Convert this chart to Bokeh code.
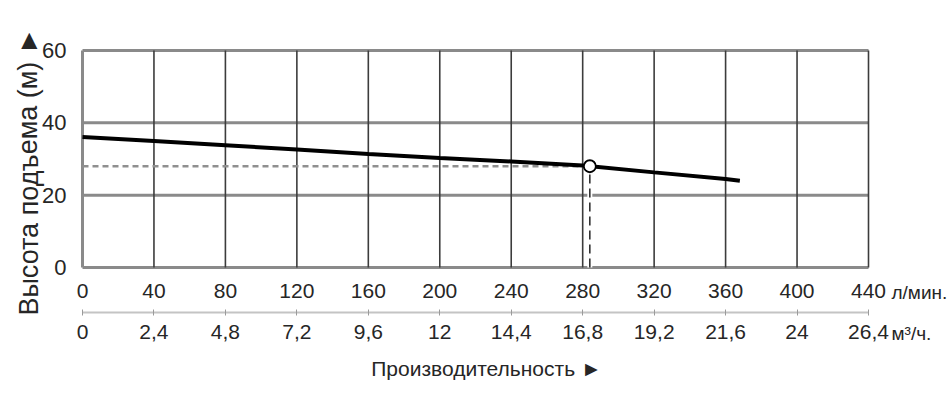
from bokeh.plotting import figure
from bokeh.models import LinearAxis, FixedTicker, Label
from bokeh.embed import file_html
from bokeh.resources import INLINE

# ---- data ----
flow_lpm = [0, 40, 80, 120, 160, 200, 240, 280, 320, 360, 368]
head_m = [36.1, 35.0, 33.8, 32.6, 31.4, 30.3, 29.3, 28.2, 26.3, 24.5, 24.0]
duty_flow = [284]
duty_head = [28.0]
x_ticks = [0, 40, 80, 120, 160, 200, 240, 280, 320, 360, 400, 440]
x_tick_labels = ["0", "40", "80", "120", "160", "200", "240", "280", "320", "360", "400", "440"]
m3h_tick_labels = ["0", "2,4", "4,8", "7,2", "9,6", "12", "14,4", "16,8", "19,2", "21,6", "24", "26,4"]
y_ticks = [0, 20, 40, 60]
y_tick_labels = ["0", "20", "40", "60"]
x_title = "Производительность ►"
y_title = "Высота подъема (м) ►"
unit_lpm = "л/мин."
unit_m3h = "м³/ч."

FONT = "Liberation Sans"
TXT = "#262626"
W, H = 951, 397

# ---- layout geometry (pixels on the canvas) ----
FX0, FX1 = 82, 868      # left / right edge of the chart box
FY0, FY1 = 50, 267      # top / bottom edge of the chart box
xmin, xmax = x_ticks[0], x_ticks[-1]
ymin, ymax = y_ticks[0], y_ticks[-1]
sx = (FX1 - FX0) / (xmax - xmin)
sy = (FY1 - FY0) / (ymax - ymin)
x_range = (xmin - FX0 / sx, xmax + (W - FX1) / sx)
y_range = (ymin - (H - FY1) / sy, ymax + FY0 / sy)
AX2_Y = ymin - (312 - FY1) / sy   # second (m3/h) axis position

p = figure(width=W, height=H, output_backend="svg", toolbar_location=None,
           x_range=x_range, y_range=y_range, x_axis_type=None, y_axis_type=None,
           min_border=0)
p.outline_line_color = None
p.xgrid.visible = False
p.ygrid.visible = False
p.background_fill_color = "white"
p.border_fill_color = "white"

# chart box grid
p.segment(x0=[xmin] * len(y_ticks), x1=[xmax] * len(y_ticks), y0=y_ticks, y1=y_ticks,
          line_color="#8a8a8a", line_width=3)
p.segment(x0=x_ticks[:1], x1=x_ticks[:1], y0=[ymin], y1=[ymax],
          line_color="#8a8a8a", line_width=3)
p.segment(x0=x_ticks[1:], x1=x_ticks[1:], y0=[ymin] * (len(x_ticks) - 1),
          y1=[ymax] * (len(x_ticks) - 1), line_color="#3c3c3c", line_width=1.6)

# y axis
yax = LinearAxis(ticker=FixedTicker(ticks=y_ticks), fixed_location=xmin, bounds=(ymin, ymax),
                 major_label_overrides={t: l for t, l in zip(y_ticks, y_tick_labels)})
yax.axis_line_color = None
yax.major_tick_line_color = None
yax.minor_tick_line_color = None
yax.major_label_text_font = FONT
yax.major_label_text_font_size = "22px"
yax.major_label_text_color = TXT
yax.major_label_standoff = 10
p.add_layout(yax, "left")

# x axis 1 (l/min)
xax1 = LinearAxis(ticker=FixedTicker(ticks=x_ticks), fixed_location=ymin, bounds=(xmin, xmax),
                  major_label_overrides={t: l for t, l in zip(x_ticks, x_tick_labels)})
xax1.axis_line_color = None
xax1.major_tick_line_color = None
xax1.minor_tick_line_color = None
xax1.major_label_text_font = FONT
xax1.major_label_text_font_size = "21px"
xax1.major_label_text_color = TXT
xax1.major_label_standoff = 10
p.add_layout(xax1, "below")

# x axis 2 (m3/h)
xax2 = LinearAxis(ticker=FixedTicker(ticks=x_ticks), fixed_location=AX2_Y, bounds=(xmin, xmax),
                  major_label_overrides={t: l for t, l in zip(x_ticks, m3h_tick_labels)})
xax2.axis_line_color = "#c4c4c4"
xax2.axis_line_width = 2
xax2.major_tick_line_color = "#9a9a9a"
xax2.major_tick_in = 3
xax2.major_tick_out = 3
xax2.minor_tick_line_color = None
xax2.major_label_text_font = FONT
xax2.major_label_text_font_size = "21px"
xax2.major_label_text_color = TXT
xax2.major_label_standoff = 9
p.add_layout(xax2, "below")

# duty point guides
p.line([xmin, duty_flow[0]], [duty_head[0], duty_head[0]], line_color="#8f8f8f",
       line_width=2.5, line_dash="6 4")
p.line([duty_flow[0], duty_flow[0]], [ymin, duty_head[0]], line_color="white", line_width=5)
p.line([duty_flow[0], duty_flow[0]], [ymin, duty_head[0]], line_color="#222222",
       line_width=1.5, line_dash="9 5")

# curve
p.line(flow_lpm, head_m, line_color="black", line_width=4)
p.scatter(duty_flow, duty_head, size=12, fill_color="white", line_color="black", line_width=1.8)

# titles and units (screen coordinates, origin bottom-left of canvas)
common = dict(x_units="screen", y_units="screen", text_font=FONT, text_color=TXT,
              text_baseline="middle")
p.add_layout(Label(x=891, y=H - 292, text=unit_lpm, text_font_size="19px",
                   text_align="left", **common))
p.add_layout(Label(x=891, y=H - 333, text=unit_m3h, text_font_size="19px",
                   text_align="left", **common))
p.add_layout(Label(x=486, y=H - 368, text=x_title, text_font_size="21px",
                   text_align="center", **common))
p.add_layout(Label(x=28, y=H - 171, text=y_title, text_font_size="27px",
                   text_align="center", angle=1.5708, **common))

open("out.html", "w").write(file_html(p, INLINE))
